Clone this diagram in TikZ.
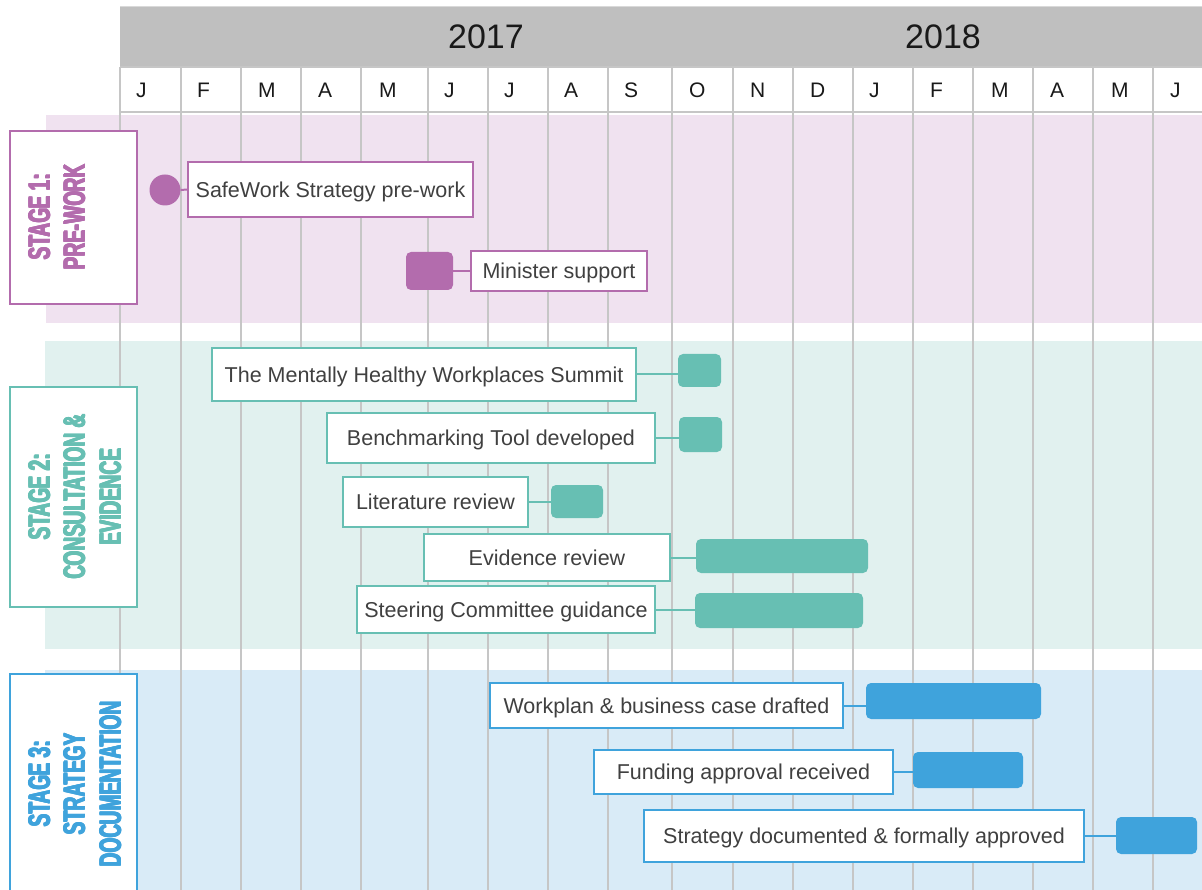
\documentclass[tikz,border=0pt]{standalone}
\usepackage{fontspec}
\setmainfont{Liberation Sans}
\usepackage{graphicx}
\definecolor{purp}{HTML}{B36CAD}
\definecolor{purpbg}{HTML}{F0E2F0}
\definecolor{teal2}{HTML}{67BFB3}
\definecolor{tealbg}{HTML}{E1F1EF}
\definecolor{blue2}{HTML}{3FA3DC}
\definecolor{bluebg}{HTML}{D9EBF7}
\definecolor{gridc}{HTML}{C6C6C6}
\definecolor{headc}{HTML}{BFBFBF}
\definecolor{txt}{HTML}{404040}
\tikzset{
  lbl/.style={draw=#1, line width=1.8pt, fill=white, text=txt, inner sep=0pt,
    text height=18pt, text depth=2.6pt,
    font=\fontsize{21.5}{24}\selectfont},
  bar/.style={fill=#1, draw=none, rounded corners=5pt, inner sep=0pt},
  conn/.style={draw=#1, line width=2pt},
  stagebox/.style={draw=#1, line width=1.8pt, fill=white},
  stagetxt/.style={rotate=90, anchor=base, text=#1, inner sep=0pt,
    font=\fontsize{30.5}{35}\selectfont\bfseries},
  month/.style={font=\fontsize{21}{24}\selectfont, text=black!90, inner sep=0pt, anchor=base west},
  year/.style={font=\fontsize{34}{38}\selectfont, text=black!90, inner sep=0pt},
  gridline/.style={draw=gridc, line width=2.2pt},
}
\newcommand{\heavy}[1]{\rlap{#1}\rlap{\kern1.6pt#1}\rlap{\raisebox{0.7pt}{#1}}\rlap{\kern0.8pt\raisebox{0.7pt}{#1}}\kern1.6pt#1}
\newcommand{\cond}[1]{\scalebox{0.62}[1]{\heavy{#1}}}
\begin{document}
\begin{tikzpicture}[x=1pt,y=-1pt]
\useasboundingbox (0,0) rectangle (1202,890);
% stage bands
\fill[purpbg] (46,115) rectangle (1202,323);
\fill[tealbg] (45,341) rectangle (1202,649);
\fill[bluebg] (45,670) rectangle (1202,890);
% header
\fill[headc] (120,7) rectangle (1202,67);
\draw[draw=black!15, line width=1pt] (120,7) -- (1202,7);
\fill[white] (120,67) rectangle (1202,112);
\draw[gridc, line width=1.8pt] (120,67) -- (1202,67);
\draw[gridc, line width=1.8pt] (120,112) -- (1202,112);
\node[year] (y2017) at (486,37) {2017};
\node[year] (y2018) at (943,37) {2018};
% vertical grid lines and months
\foreach \xx in {120,181,241,301,361,428,488,548,608,672,733,793,853,913,973,1033,1093,1153}
  \draw[gridline] (\xx,67) -- (\xx,890);
\foreach \m/\xl in {J/136,F/197,M/258,A/318,M/379,J/444,J/504,A/564,S/624,O/689,N/750,D/810,J/869,F/930,M/991,A/1050,M/1111,J/1170}
  \node[month] at (\xl,98) {\m};
% stage label boxes
\draw[stagebox=purp] (10,131) rectangle (137,304);
\node[stagetxt=purp] (s1a) at (50,217) {\cond{STAGE 1:}};
\node[stagetxt=purp] (s1b) at (85,217) {\cond{PRE-WORK}};
\draw[stagebox=teal2] (10,387) rectangle (137,607);
\node[stagetxt=teal2] (s2a) at (50,497) {\cond{STAGE 2:}};
\node[stagetxt=teal2] (s2b) at (85,497) {\cond{CONSULTATION \&}};
\node[stagetxt=teal2] (s2c) at (121,497) {\cond{EVIDENCE}};
\draw[stagebox=blue2] (10,674) rectangle (137,895);
\node[stagetxt=blue2] (s3a) at (50,784) {\cond{STAGE 3:}};
\node[stagetxt=blue2] (s3b) at (85,784) {\cond{STRATEGY}};
\node[stagetxt=blue2] (s3c) at (121,784) {\cond{DOCUMENTATION}};
% Stage 1 tasks
\node[circle, fill=purp, minimum size=31pt, inner sep=0pt] (t1b) at (165,190) {};
\node[lbl=purp, minimum width=285pt, minimum height=55pt] (t1) at (330.5,189.5) {SafeWork Strategy pre-work};
\draw[conn=purp] (t1b.east) -- (t1.west);
\node[bar=purp, minimum width=47pt, minimum height=38pt] (t2b) at (429.5,271) {};
\node[lbl=purp, minimum width=176pt, minimum height=40pt] (t2) at (559,271) {Minister support};
\draw[conn=purp] (t2b.east) -- (t2.west);
% Stage 2 tasks
\node[lbl=teal2, minimum width=424pt, minimum height=53pt] (t3) at (424,374.5) {The Mentally Healthy Workplaces Summit};
\node[bar=teal2, minimum width=43pt, minimum height=33pt] (t3b) at (699.5,370.5) {};
\draw[conn=teal2] (t3.east) -- (t3.east -| t3b.west);
\node[lbl=teal2, minimum width=328pt, minimum height=50pt] (t4) at (491,438) {Benchmarking Tool developed};
\node[bar=teal2, minimum width=43pt, minimum height=35pt] (t4b) at (700.5,434.5) {};
\draw[conn=teal2] (t4.east) -- (t4.east -| t4b.west);
\node[lbl=teal2, minimum width=185pt, minimum height=50pt] (t5) at (435.5,502) {Literature review};
\node[bar=teal2, minimum width=52pt, minimum height=33pt] (t5b) at (577,501.5) {};
\draw[conn=teal2] (t5.east) -- (t5.east -| t5b.west);
\node[lbl=teal2, minimum width=246pt, minimum height=47pt] (t6) at (547,557.5) {Evidence review};
\node[bar=teal2, minimum width=172pt, minimum height=34pt] (t6b) at (782,556) {};
\draw[conn=teal2] (t6.east) -- (t6.east -| t6b.west);
\node[lbl=teal2, minimum width=298pt, minimum height=47pt] (t7) at (506,609.5) {Steering Committee guidance};
\node[bar=teal2, minimum width=168pt, minimum height=35pt] (t7b) at (779,610.5) {};
\draw[conn=teal2] (t7.east) -- (t7.east -| t7b.west);
% Stage 3 tasks
\node[lbl=blue2, minimum width=353pt, minimum height=45pt] (t8) at (666.5,705.5) {Workplan \& business case drafted};
\node[bar=blue2, minimum width=175pt, minimum height=36pt] (t8b) at (953.5,701) {};
\draw[conn=blue2] (t8.east) -- (t8.east -| t8b.west);
\node[lbl=blue2, minimum width=299pt, minimum height=44pt] (t9) at (743.5,772) {Funding approval received};
\node[bar=blue2, minimum width=110pt, minimum height=36pt] (t9b) at (968,770) {};
\draw[conn=blue2] (t9.east) -- (t9.east -| t9b.west);
\node[lbl=blue2, minimum width=440pt, minimum height=52pt] (t10) at (864,836) {Strategy documented \& formally approved};
\node[bar=blue2, minimum width=81pt, minimum height=37pt] (t10b) at (1156.5,835.5) {};
\draw[conn=blue2] (t10.east) -- (t10.east -| t10b.west);
\end{tikzpicture}
\end{document}
